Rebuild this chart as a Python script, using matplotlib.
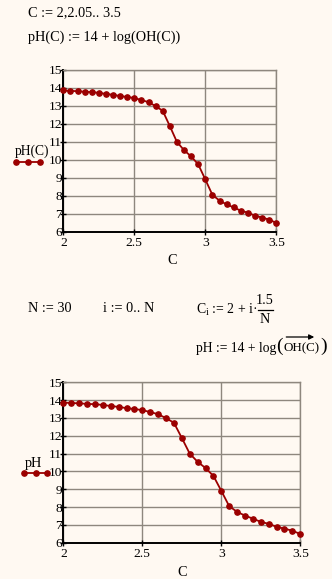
import matplotlib
matplotlib.use("Agg")
import matplotlib.pyplot as plt
from matplotlib.lines import Line2D
from matplotlib.patches import FancyArrowPatch

# ---- data ----
C_values = [2.00, 2.05, 2.10, 2.15, 2.20, 2.25, 2.30, 2.35, 2.40, 2.45, 2.50,
            2.55, 2.60, 2.65, 2.70, 2.75, 2.80, 2.85, 2.90, 2.95, 3.00,
            3.05, 3.10, 3.15, 3.20, 3.25, 3.30, 3.35, 3.40, 3.45, 3.50]
pH_values = [13.86, 13.84, 13.82, 13.79, 13.77, 13.73, 13.67, 13.62, 13.55, 13.50, 13.44,
             13.33, 13.21, 12.99, 12.73, 11.88, 11.00, 10.54, 10.19, 9.75, 8.91,
             8.05, 7.73, 7.52, 7.35, 7.17, 7.06, 6.89, 6.79, 6.67, 6.49]
x_ticks = [2, 2.5, 3, 3.5]
x_tick_labels = ["2", "2.5", "3", "3.5"]
y_ticks = list(range(6, 16))
y_tick_labels = [str(v) for v in y_ticks]

W, H = 332, 579
BG = "#FFF9F2"
RED = "#9B0000"
GRID = "#8E877E"
SERIF = ["Liberation Serif", "DejaVu Serif"]
plt.rcParams["font.family"] = SERIF
plt.rcParams["mathtext.fontset"] = "custom"
plt.rcParams["mathtext.rm"] = "Liberation Serif"
plt.rcParams["mathtext.it"] = "Liberation Serif:italic"
FS = 10.3
TFS = 9.7

fig = plt.figure(figsize=(W / 100, H / 100), dpi=100, facecolor=BG)


def px(x, y):
    return x / W, 1 - y / H


def txt(x, y, s, size=FS, ha="left", va="center", **kw):
    fx, fy = px(x, y)
    fig.text(fx, fy, s, fontsize=size, ha=ha, va=va, color="black", **kw)


def make_axes(left, top, right, bottom):
    fx0, fy1 = px(left, top)
    fx1, fy0 = px(right, bottom)
    ax = fig.add_axes([fx0, fy0, fx1 - fx0, fy1 - fy0])
    ax.set_facecolor(BG)
    ax.plot(C_values, pH_values, color=RED, lw=1.3, marker="o", ms=3.8,
            mfc=RED, mec=RED, zorder=3, clip_on=False)
    ax.set_xlim(2, 3.5)
    ax.set_ylim(6, 15)
    ax.set_xticks(x_ticks)
    ax.set_xticklabels(x_tick_labels)
    ax.set_yticks(y_ticks)
    ax.set_yticklabels(y_tick_labels)
    ax.grid(True, color=GRID, lw=1.0)
    ax.set_axisbelow(True)
    for s in ("top", "right"):
        ax.spines[s].set_color(GRID)
        ax.spines[s].set_linewidth(1.0)
    for s in ("left", "bottom"):
        ax.spines[s].set_color("black")
        ax.spines[s].set_linewidth(1.4)
    ax.tick_params(axis="both", direction="inout", length=4.5, width=1.0,
                   color="black", labelsize=TFS, labelcolor="black")
    ax.tick_params(axis="y", pad=-1.5)
    ax.tick_params(axis="x", pad=1.5)
    return ax


def legend_glyph(x0, x1, y):
    fx0, fy = px(x0, y)
    fx1, _ = px(x1, y)
    xs = [fx0, (fx0 + fx1) / 2, fx1]
    fig.add_artist(Line2D(xs, [fy] * 3, transform=fig.transFigure, color=RED,
                          lw=1.3, marker="o", ms=3.8, mfc=RED, mec=RED))


# ---- top section ----
txt(28, 13, "C := 2,2.05.. 3.5")
txt(28, 37, "pH(C) := 14 + log(OH(C))")

ax1 = make_axes(63.3, 70, 276.3, 231.7)
txt(171.7, 260, "C", ha="center")
txt(15, 151.5, "pH(C)", size=9.8)
legend_glyph(16, 40, 161.5)

# ---- middle text ----
txt(28, 309, "N := 30")
txt(103, 309, "i := 0.. N")
txt(196.5, 310, r"C$_{\mathrm{i}}$ := 2 + i·", size=9.9)
txt(265, 300, "1.5", ha="center")
fig.add_artist(Line2D([px(257.5, 0)[0], px(272.5, 0)[0]], [px(0, 309.5)[1]] * 2,
                      transform=fig.transFigure, color="black", lw=0.9))
txt(265, 319.5, "N", ha="center")
txt(196.5, 348.5, "pH := 14 + log", size=9.8)
txt(276.5, 346.5, "(", size=14)
txt(283.5, 348.5, "OH(C)", size=9.4)
txt(320, 346.5, ")", size=14)
fig.add_artist(FancyArrowPatch(
    px(283.5, 337), px(317, 337), transform=fig.transFigure,
    arrowstyle="-|>,head_length=3,head_width=1.5", color="black", lw=0.9,
    mutation_scale=1))

# ---- bottom section ----
ax2 = make_axes(63.3, 382.3, 300.3, 542.7)
txt(182, 572, "C", ha="center")
txt(25, 463, "pH")
legend_glyph(24, 47, 473.3)

fig.savefig("out.png", dpi=100, facecolor=BG)
